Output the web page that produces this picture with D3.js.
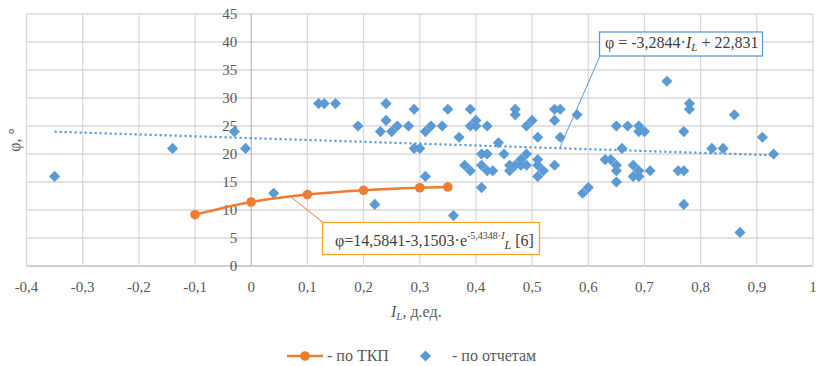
<!DOCTYPE html>
<html>
<head>
<meta charset="utf-8">
<script src="https://cdn.jsdelivr.net/npm/d3@7"></script>
<style>
  body { margin: 0; background: #fff; }
</style>
</head>
<body>
<div id="chart"></div>
<script>
// data
var xTicks = [-0.4, -0.3, -0.2, -0.1, 0, 0.1, 0.2, 0.3, 0.4, 0.5, 0.6, 0.7, 0.8, 0.9, 1];
var yTicks = [0, 5, 10, 15, 20, 25, 30, 35, 40, 45];

// "по ТКП" curve
var tkpIL = [-0.1, 0, 0.1, 0.2, 0.3, 0.35];
var tkpPhi = [9.16, 11.43, 12.75, 13.52, 13.97, 14.11];

// "по отчетам" points
var repIL = [-0.35, -0.14, -0.03, -0.01, 0.04,
  0.12, 0.13, 0.15, 0.19, 0.22, 0.23, 0.24, 0.24, 0.25, 0.26, 0.28, 0.29, 0.29, 0.30,
  0.31, 0.31, 0.32, 0.34, 0.35, 0.36, 0.37, 0.38, 0.39, 0.39, 0.39, 0.40, 0.40,
  0.41, 0.41, 0.41, 0.42, 0.42, 0.42, 0.43, 0.44, 0.45, 0.46, 0.46, 0.47, 0.47, 0.47,
  0.48, 0.48, 0.49, 0.49, 0.49, 0.50, 0.51, 0.51, 0.51, 0.51, 0.52, 0.54, 0.54, 0.54,
  0.55, 0.55, 0.58, 0.59, 0.60, 0.63, 0.64, 0.65, 0.65, 0.65, 0.65, 0.66, 0.67,
  0.68, 0.68, 0.69, 0.69, 0.69, 0.69, 0.70, 0.71, 0.74, 0.76, 0.77, 0.77, 0.77,
  0.78, 0.78, 0.82, 0.84, 0.86, 0.87, 0.91, 0.93];
var repPhi = [16, 21, 24, 21, 13,
  29, 29, 29, 25, 11, 24, 29, 26, 24, 25, 25, 28, 21, 21,
  16, 24, 25, 25, 28, 9, 23, 18, 17, 28, 25, 26, 25,
  20, 18, 14, 25, 20, 17, 17, 22, 20, 18, 17, 28, 27, 18,
  19, 18, 25, 20, 18, 26, 23, 19, 18, 16, 17, 26, 18, 28,
  28, 23, 27, 13, 14, 19, 19, 25, 18, 17, 15, 21, 25,
  18, 16, 25, 24, 17, 16, 24, 17, 33, 17, 17, 24, 11,
  29, 28, 21, 21, 27, 6, 23, 20];

// linear trend, ends of the dotted line
var trendIL = [-0.35, 0.93];
var trendPhi = [23.98, 19.78];

var FONT = "Liberation Serif";
var W = 820, H = 366;
var svg = d3.select("#chart").append("svg")
    .attr("width", W)
    .attr("height", H);

var x = d3.scaleLinear().domain([-0.4, 1]).range([26.5, 813]);
var y = d3.scaleLinear().domain([0, 45]).range([266, 14]);

var fmt = function (d) { return String(+d.toFixed(1)).replace(".", ","); };

// grid
svg.append("g").selectAll("line.h")
    .data(yTicks).enter().append("line")
    .attr("x1", x(-0.4)).attr("x2", x(1))
    .attr("y1", function (d) { return y(d); })
    .attr("y2", function (d) { return y(d); })
    .attr("stroke", function (d) { return d === 0 ? "#bfbfbf" : "#d9d9d9"; })
    .attr("stroke-width", 1.3);

svg.append("g").selectAll("line.v")
    .data(xTicks).enter().append("line")
    .attr("y1", y(45)).attr("y2", y(0))
    .attr("x1", function (d) { return x(d); })
    .attr("x2", function (d) { return x(d); })
    .attr("stroke", function (d) { return d === 0 ? "#bfbfbf" : "#d9d9d9"; })
    .attr("stroke-width", 1.3);

// tick labels
svg.append("g").selectAll("text")
    .data(xTicks).enter().append("text")
    .attr("font-family", FONT)
    .attr("x", function (d) { return x(d); })
    .attr("y", 292)
    .attr("text-anchor", "middle")
    .attr("fill", "#595959")
    .attr("font-size", 15)
    .text(fmt);

svg.append("g").selectAll("text")
    .data(yTicks).enter().append("text")
    .attr("font-family", FONT)
    .attr("x", x(0) - 14)
    .attr("y", function (d) { return y(d) + 5; })
    .attr("text-anchor", "end")
    .attr("fill", "#595959")
    .attr("font-size", 15)
    .text(fmt);

// axis titles
var xt = svg.append("text")
    .attr("font-family", FONT)
    .attr("x", 391).attr("y", 317)
    .attr("fill", "#595959")
    .attr("font-size", 16);
xt.append("tspan").attr("font-style", "italic").text("I");
xt.append("tspan").attr("font-style", "italic").attr("font-size", 11).attr("dy", 3).text("L");
xt.append("tspan").attr("dy", -3).text(", д.ед.");

svg.append("text")
    .attr("font-family", FONT)
    .attr("transform", "translate(20,140) rotate(-90)")
    .attr("text-anchor", "middle")
    .attr("fill", "#595959")
    .attr("font-size", 16)
    .text("φ, °");

// trend line (dotted)
var line = d3.line()
    .x(function (d) { return x(d[0]); })
    .y(function (d) { return y(d[1]); });

svg.append("path")
    .datum(d3.zip(trendIL, trendPhi))
    .attr("d", line)
    .attr("fill", "none")
    .attr("stroke", "#5b9bd5")
    .attr("stroke-width", 2.2)
    .attr("stroke-dasharray", "2.2,2.8");

// report points (square turned 45 degrees)
var diamond = d3.symbol().type(d3.symbolSquare).size(62);
svg.append("g").selectAll("path")
    .data(d3.zip(repIL, repPhi)).enter().append("path")
    .attr("d", diamond)
    .attr("transform", function (d) { return "translate(" + x(d[0]) + "," + y(d[1]) + ") rotate(45)"; })
    .attr("fill", "#5b9bd5");

// ТКП curve
svg.append("path")
    .datum(d3.zip(tkpIL, tkpPhi))
    .attr("d", line.curve(d3.curveMonotoneX))
    .attr("fill", "none")
    .attr("stroke", "#ed7d31")
    .attr("stroke-width", 2.5);

svg.append("g").selectAll("circle")
    .data(d3.zip(tkpIL, tkpPhi)).enter().append("circle")
    .attr("cx", function (d) { return x(d[0]); })
    .attr("cy", function (d) { return y(d[1]); })
    .attr("r", 4.8)
    .attr("fill", "#ed7d31");

// annotation: ТКП formula
svg.append("line")
    .attr("x1", x(0.071)).attr("y1", y(12.3))
    .attr("x2", 323).attr("y2", 222.5)
    .attr("stroke", "#ed7d31").attr("stroke-width", 1);
svg.append("rect")
    .attr("x", 322.5).attr("y", 222.5)
    .attr("width", 217).attr("height", 32)
    .attr("fill", "#fff")
    .attr("stroke", "#f5a623").attr("stroke-width", 1.3);
var t1 = svg.append("text")
    .attr("font-family", FONT)
    .attr("x", 335).attr("y", 246)
    .attr("fill", "#404040")
    .attr("font-size", 16);
t1.append("tspan").text("φ=14,5841-3,1503·e");
t1.append("tspan").attr("font-size", 10).attr("dy", -7).text("-5,4348·");
t1.append("tspan").attr("font-size", 10).attr("font-style", "italic").text("I");
t1.append("tspan").attr("font-size", 12).attr("font-style", "italic").attr("dy", 10).text("L");
t1.append("tspan").attr("dy", -3).text(" [6]");

// annotation: trend formula
svg.append("line")
    .attr("x1", x(0.549)).attr("y1", y(21.03))
    .attr("x2", 600).attr("y2", 56)
    .attr("stroke", "#5b9bd5").attr("stroke-width", 1);
svg.append("rect")
    .attr("x", 599.5).attr("y", 32)
    .attr("width", 163).attr("height", 24)
    .attr("fill", "#fff")
    .attr("stroke", "#5b9bd5").attr("stroke-width", 1.3);
var t2 = svg.append("text")
    .attr("font-family", FONT)
    .attr("x", 605).attr("y", 48)
    .attr("fill", "#404040")
    .attr("font-size", 16);
t2.append("tspan").text("φ = -3,2844·");
t2.append("tspan").attr("font-style", "italic").text("I");
t2.append("tspan").attr("font-style", "italic").attr("font-size", 11).attr("dy", 3).text("L");
t2.append("tspan").attr("dy", -3).text(" + 22,831");

// legend
var lg = svg.append("g");
lg.append("line")
    .attr("x1", 287).attr("x2", 323).attr("y1", 356).attr("y2", 356)
    .attr("stroke", "#ed7d31").attr("stroke-width", 2.5);
lg.append("circle")
    .attr("cx", 305).attr("cy", 356).attr("r", 4.8)
    .attr("fill", "#ed7d31");
lg.append("text")
    .attr("font-family", FONT)
    .attr("x", 327).attr("y", 361)
    .attr("fill", "#595959")
    .attr("font-size", 16)
    .text("- по ТКП");
lg.append("path")
    .attr("d", diamond)
    .attr("transform", "translate(425.5,356) rotate(45)")
    .attr("fill", "#5b9bd5");
lg.append("text")
    .attr("font-family", FONT)
    .attr("x", 452).attr("y", 361)
    .attr("fill", "#595959")
    .attr("font-size", 16)
    .text("- по отчетам");
</script>
</body>
</html>
